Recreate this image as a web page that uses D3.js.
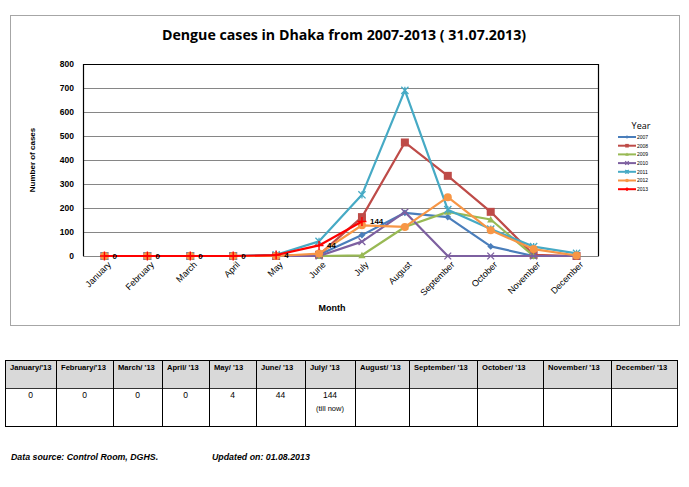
<!DOCTYPE html>
<html>
<head>
<meta charset="utf-8">
<script src="https://cdn.jsdelivr.net/npm/d3@7"></script>
<style>
  body { margin: 0; background: #fff; }
  svg text { font-family: "Liberation Sans", Arial, sans-serif; }
</style>
</head>
<body>
<svg id="chart" width="689" height="487"></svg>
<script>
// Data
const months = ['January','February','March','April','May','June','July','August','September','October','November','December'];
const yTicks = [0,100,200,300,400,500,600,700,800];
const years = ['2007','2008','2009','2010','2011','2012','2013'];
const colors = ['#4a7ebb','#be4b48','#98b954','#7d60a0','#46aac5','#f79646','#ff0000'];
const shapes = ['diamond','square','triangle','x','star','circle','plus'];

const cases2007 = [0,0,0,0,0,5,87,180,162,40,0,0];
const cases2008 = [0,0,0,0,0,5,162,473,334,184,5,0];
const cases2009 = [0,0,0,0,0,0,3,121,184,152,0,0];
const cases2010 = [0,0,0,0,0,0,60,183,0,0,0,0];
const cases2011 = [0,0,0,0,5,61,255,690,193,112,39,11];
const cases2012 = [0,0,0,0,0,10,128,121,245,107,29,2];
const cases2013 = [0,0,0,0,4,44,144];

const series = [cases2007,cases2008,cases2009,cases2010,cases2011,cases2012,cases2013];

// table
const tableHead = ["January/'13","February/'13","March/ '13","April/ '13","May/ '13","June/ '13","July/ '13","August/ '13","September/ '13","October/ '13","November/ '13","December/ '13"];
const tableVals = ['0','0','0','0','4','44','144','','','','',''];
const colEdges = [5,56,113,162,209,256,305,355,409,477,543,611,677];

const svg = d3.select('#chart');

// outer chart frame
svg.append('rect').attr('x',10.5).attr('y',15.5).attr('width',669).attr('height',310)
  .attr('fill','#fff').attr('stroke','#a6a6a6');

svg.append('text').attr('x',344).attr('y',40).attr('text-anchor','middle')
  .style('font-family','"Open Sans", sans-serif')
  .style('font-size','14.2px').style('font-weight','bold')
  .text('Dengue cases in Dhaka from 2007-2013 ( 31.07.2013)');

const margin = {left:83, top:64, right:598, bottom:256};
const xScale = d3.scaleBand().domain(months).range([margin.left, margin.right]);
const yScale = d3.scaleLinear().domain([0,800]).range([margin.bottom, margin.top]);
const xc = m => xScale(m) + xScale.bandwidth()/2;

// gridlines
svg.append('g').selectAll('line').data(yTicks.filter(d => d > 0 && d < 800)).enter()
  .append('line')
  .attr('x1',margin.left).attr('x2',margin.right)
  .attr('y1',d => Math.round(yScale(d))+0.5).attr('y2',d => Math.round(yScale(d))+0.5)
  .attr('stroke','#868686').attr('stroke-width',1);

// plot border
svg.append('path')
  .attr('d',`M${margin.left+0.5},${margin.bottom}V${margin.top+0.5}H${margin.right+0.5}V${margin.bottom}`)
  .attr('fill','none').attr('stroke','#000').attr('stroke-width',1.2);
svg.append('line').attr('x1',margin.left).attr('x2',margin.right+1)
  .attr('y1',margin.bottom+0.5).attr('y2',margin.bottom+0.5)
  .attr('stroke','#868686');

// y axis
const yAxis = d3.axisLeft(yScale).tickValues(yTicks).tickSize(0).tickPadding(9);
const yG = svg.append('g').attr('transform',`translate(${margin.left},0)`).call(yAxis);
yG.select('.domain').remove();
yG.selectAll('text').style('font-size','8.5px').style('font-weight','bold').attr('fill','#000');

svg.append('text').attr('transform','translate(35,160) rotate(-90)')
  .attr('text-anchor','middle').style('font-size','8px').style('font-weight','bold')
  .text('Number of cases');

// x axis
const xAxis = d3.axisBottom(xScale).tickSize(0).tickPadding(5);
const xG = svg.append('g').attr('transform',`translate(0,${margin.bottom})`).call(xAxis);
xG.select('.domain').remove();
xG.selectAll('text')
  .style('font-size','9px').attr('fill','#000')
  .attr('text-anchor','end')
  .attr('transform','translate(5,7) rotate(-45)')
  .attr('dy','0.35em').attr('y',0);

svg.append('text').attr('x',332).attr('y',311).attr('text-anchor','middle')
  .style('font-size','9px').style('font-weight','bold').text('Month');

// marker drawing
function marker(g, shape, color, s) {
  if (shape === 'diamond') {
    g.append('path').attr('d',`M0,${-s}L${s},0L0,${s}L${-s},0Z`).attr('fill',color);
  } else if (shape === 'square') {
    g.append('rect').attr('x',-s).attr('y',-s).attr('width',2*s).attr('height',2*s).attr('fill',color);
  } else if (shape === 'triangle') {
    g.append('path').attr('d',`M0,${-s}L${s},${s*0.8}L${-s},${s*0.8}Z`).attr('fill',color);
  } else if (shape === 'x') {
    g.append('path').attr('d',`M${-s},${-s}L${s},${s}M${-s},${s}L${s},${-s}`).attr('stroke',color).attr('stroke-width',1.3);
  } else if (shape === 'star') {
    g.append('path').attr('d',`M${-s},${-s}L${s},${s}M${-s},${s}L${s},${-s}M0,${-s}V${s}`).attr('stroke',color).attr('stroke-width',1.3);
  } else if (shape === 'circle') {
    g.append('circle').attr('r',s).attr('fill',color);
  } else if (shape === 'plus') {
    g.append('path').attr('d',`M${-s},0H${s}M0,${-s}V${s}`).attr('stroke',color).attr('stroke-width',1.4);
  }
}
const markerSize = [3.4,4,3.6,3.4,3.6,4,4.5];

const line = d3.line().x((d,i) => xc(months[i])).y(d => yScale(d));

series.forEach((vals,k) => {
  const g = svg.append('g').attr('class','series-' + years[k]);
  g.append('path').datum(vals).attr('d',line)
    .attr('fill','none').attr('stroke',colors[k]).attr('stroke-width',2.2)
    .attr('stroke-linejoin','round');
  vals.forEach((v,i) => {
    const mg = g.append('g').attr('transform',`translate(${xc(months[i])},${yScale(v)})`);
    marker(mg, shapes[k], colors[k], markerSize[k]);
  });
});

// data labels for 2013
svg.append('g').selectAll('text').data(cases2013).enter().append('text')
  .attr('x',(d,i) => xc(months[i]) + 8)
  .attr('y',(d,i) => yScale(d) + 3)
  .style('font-size','8px').style('font-weight','bold')
  .text(d => d);

// legend
const legend = svg.append('g');
legend.append('text').attr('x',641).attr('y',129).attr('text-anchor','middle')
  .style('font-family','"Open Sans", sans-serif').style('font-size','9px').text('Year');
years.forEach((y,k) => {
  const ly = 137 + k*8.7;
  legend.append('line').attr('x1',618).attr('x2',636).attr('y1',ly).attr('y2',ly)
    .attr('stroke',colors[k]).attr('stroke-width',2);
  const mg = legend.append('g').attr('transform',`translate(627,${ly})`);
  marker(mg, shapes[k], colors[k], 1.8);
  legend.append('text').attr('x',637).attr('y',ly+1.8)
    .style('font-size','5px').text(y);
});

// table
const tbl = svg.append('g');
tbl.selectAll('rect.head').data(tableHead).enter().append('rect').attr('class','head')
  .attr('x',(d,i) => colEdges[i]).attr('y',360)
  .attr('width',(d,i) => colEdges[i+1]-colEdges[i]).attr('height',28)
  .attr('fill','#d9d9d9');
tbl.selectAll('text.head').data(tableHead).enter().append('text').attr('class','head')
  .attr('x',(d,i) => colEdges[i]+5).attr('y',369.5)
  .style('font-size','7.6px').style('font-weight','bold').text(d => d);
tbl.selectAll('text.val').data(tableVals).enter().append('text').attr('class','val')
  .attr('x',(d,i) => (colEdges[i]+colEdges[i+1])/2).attr('y',398)
  .attr('text-anchor','middle').style('font-size','8.5px').text(d => d);
tbl.append('text').attr('x',(colEdges[6]+colEdges[7])/2).attr('y',411)
  .attr('text-anchor','middle').style('font-size','7.5px').text('(till now)');
// grid lines of the table
tbl.selectAll('line.v').data(colEdges).enter().append('line').attr('class','v')
  .attr('x1',d => d+0.5).attr('x2',d => d+0.5).attr('y1',360).attr('y2',426)
  .attr('stroke','#000').attr('stroke-width',1);
[360,388,426].forEach(yy => {
  tbl.append('line').attr('x1',colEdges[0]).attr('x2',colEdges[12]+1)
    .attr('y1',yy+0.5).attr('y2',yy+0.5).attr('stroke','#000').attr('stroke-width',yy===388?0.8:1.2);
});

// footer
svg.append('text').attr('x',11).attr('y',460)
  .style('font-size','8.8px').style('font-style','italic').style('font-weight','bold')
  .text('Data source: Control Room, DGHS.');
svg.append('text').attr('x',212).attr('y',460)
  .style('font-size','8.8px').style('font-style','italic').style('font-weight','bold')
  .text('Updated on: 01.08.2013');
</script>
</body>
</html>
